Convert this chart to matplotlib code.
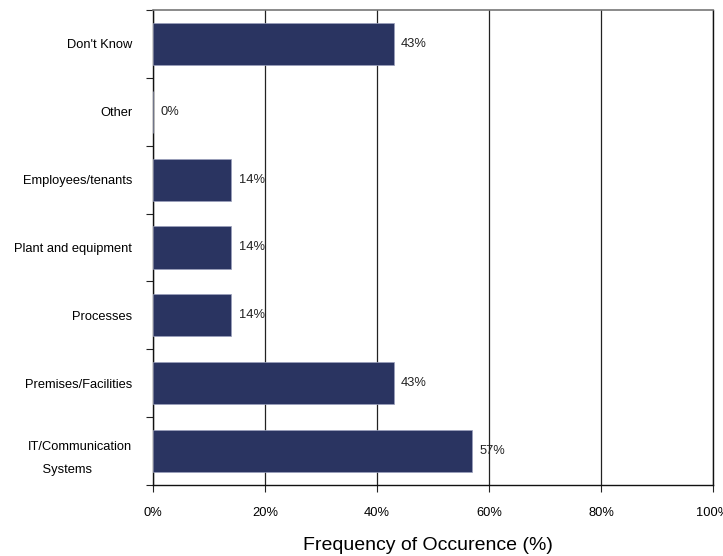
import numpy as np
import matplotlib
matplotlib.use("Agg")
import matplotlib.pyplot as plt

plt.rcParams["font.family"] = ["Liberation Sans", "DejaVu Sans"]

# categories listed bottom to top
categories = ["IT/Communication\n    Systems", "Premises/Facilities", "Processes",
              "Plant and equipment", "Employees/tenants", "Other", "Don't Know"]
values = [57, 43, 14, 14, 14, 0, 43]
value_labels = ["57%", "43%", "14%", "14%", "14%", "0%", "43%"]
x_ticks = [0, 20, 40, 60, 80, 100]

BAR_COLOR = "#2a3461"
FS = 9.3

fig = plt.figure(figsize=(7.23, 5.56), dpi=100)
ax = fig.add_axes([153 / 723, 71 / 556, 560 / 723, 475 / 556])

y = np.arange(len(categories))
ax.barh(y, values, height=0.62, color=BAR_COLOR, edgecolor="#9aa0bc",
        linewidth=0.5, zorder=3)

for yi, v, lab in zip(y, values, value_labels):
    ax.text(v + 1.3, yi, lab, ha="left", va="center", fontsize=FS,
            color="#222222", zorder=4)

ax.set_xlim(0, 100)
ax.set_ylim(-0.5, len(categories) - 0.5)

# vertical gridlines
ax.set_xticks(x_ticks)
ax.set_xticklabels([f"{t}%" for t in x_ticks], fontsize=FS)
ax.grid(axis="x", color="#222222", linewidth=0.9, zorder=1)
ax.tick_params(axis="x", length=5, direction="out", pad=11, color="#222222")

# tick marks at category boundaries, labels at category centres
ax.set_yticks(np.arange(-0.5, len(categories), 1.0))
ax.set_yticklabels([])
ax.tick_params(axis="y", which="major", length=5, direction="out", color="#222222")
ax.set_yticks(y, minor=True)
ax.set_yticklabels(categories, minor=True, fontsize=FS, linespacing=2.3)
for lab in ax.get_yticklabels(minor=True):
    lab.set_multialignment("left")
ax.tick_params(axis="y", which="minor", length=0, pad=15)

for side in ("left", "bottom", "right"):
    ax.spines[side].set_color("#111111")
    ax.spines[side].set_linewidth(1.0)
ax.spines["top"].set_color("#777777")
ax.spines["top"].set_linewidth(1.2)

fig.text(428 / 723, 1 - 546 / 556, "Frequency of Occurence (%)",
         ha="center", va="center", fontsize=14)

fig.savefig("out.png", dpi=100)
